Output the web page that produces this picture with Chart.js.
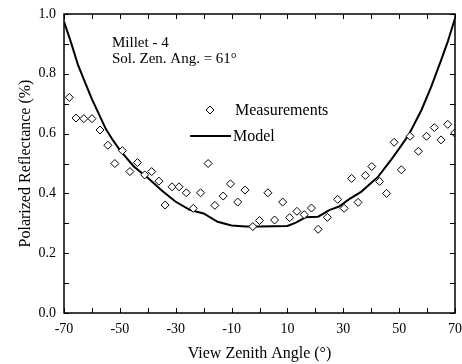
<!DOCTYPE html>
<html><head><meta charset="utf-8">
<script src="https://cdn.jsdelivr.net/npm/chart.js@4.4.1/dist/chart.umd.min.js"></script>
<style>html,body{margin:0;padding:0;background:#fff;}#wrap{width:462px;height:364px;}</style>
</head><body><div id="wrap"><canvas id="c" width="462" height="364"></canvas></div>
<script>
const measAngles = [-68.1,-65.7,-62.9,-60.0,-57.1,-54.3,-51.8,-49.1,-46.4,-43.7,-41.1,-38.6,-36.0,-33.8,-31.3,-28.8,-26.2,-23.7,-21.1,-18.4,-16.0,-13.0,-10.4,-7.8,-5.2,-2.4,0.0,3.0,5.4,8.3,10.8,13.4,16.0,18.6,21.0,24.3,28.0,30.3,33.0,35.3,37.9,40.2,43.0,45.5,48.2,50.8,53.9,56.9,59.8,62.6,65.0,67.4,69.9];
const measValues = [0.721,0.652,0.650,0.650,0.612,0.561,0.500,0.543,0.473,0.503,0.462,0.473,0.441,0.361,0.422,0.422,0.402,0.350,0.402,0.500,0.360,0.391,0.432,0.371,0.411,0.289,0.309,0.402,0.311,0.371,0.319,0.340,0.329,0.351,0.280,0.320,0.380,0.350,0.450,0.370,0.460,0.490,0.440,0.400,0.571,0.479,0.591,0.541,0.591,0.620,0.579,0.631,0.602];
const modelAngles = [-70,-67.5,-65,-62.5,-60,-57.5,-55,-52.5,-50,-45,-40,-35,-30,-25,-20,-15,-10,-5,0,5,10,13,16.5,21,25,28.5,32,36.5,42.5,47.5,50,53.5,58,61.5,65,67.5,70];
const modelValues = [0.975,0.905,0.830,0.772,0.715,0.665,0.615,0.578,0.545,0.490,0.452,0.410,0.372,0.345,0.333,0.305,0.293,0.289,0.289,0.290,0.291,0.302,0.320,0.322,0.344,0.356,0.380,0.406,0.456,0.517,0.550,0.597,0.679,0.757,0.845,0.910,0.985];
const xTickLabels = [-70,-50,-30,-10,10,30,50,70];
const yTickLabels = [0.0,0.2,0.4,0.6,0.8,1.0];
const annotationLines = ["Millet - 4","Sol. Zen. Ang. = 61°"];
const legendLabels = ["Measurements","Model"];

const FONT = "'Liberation Serif', 'Times New Roman', serif";

const frame = {
  id:'frame',
  afterDraw(chart){
    const {ctx, chartArea:a, scales:{x,y}} = chart;
    ctx.save();
    ctx.strokeStyle='#000'; ctx.lineWidth=1.5;
    ctx.strokeRect(a.left, a.top, a.right-a.left, a.bottom-a.top);
    ctx.lineWidth=1;
    ctx.beginPath();
    for(let v=-70; v<=70; v+=10){
      const px = Math.round(x.getPixelForValue(v))+0.5;
      ctx.moveTo(px,a.bottom); ctx.lineTo(px,a.bottom-5);
      ctx.moveTo(px,a.top); ctx.lineTo(px,a.top+5);
    }
    for(let i=0;i<=10;i++){
      const py = Math.round(y.getPixelForValue(i/10))+0.5;
      ctx.moveTo(a.left,py); ctx.lineTo(a.left+5,py);
      ctx.moveTo(a.right,py); ctx.lineTo(a.right-5,py);
    }
    ctx.stroke();
    // annotation text
    ctx.fillStyle='#000';
    ctx.font = "15px "+FONT;
    ctx.textBaseline='alphabetic'; ctx.textAlign='left';
    ctx.fillText(annotationLines[0],112,47);
    ctx.fillText(annotationLines[1],112,63);
    // legend
    ctx.font = "16px "+FONT;
    ctx.fillText(legendLabels[0],235,115);
    ctx.fillText(legendLabels[1],233,141);
    // legend diamond
    ctx.beginPath();
    ctx.moveTo(210,106); ctx.lineTo(214,110); ctx.lineTo(210,114); ctx.lineTo(206,110); ctx.closePath();
    ctx.fillStyle='#fff'; ctx.fill(); ctx.lineWidth=1; ctx.stroke();
    ctx.beginPath(); ctx.lineWidth=2; ctx.moveTo(190,136); ctx.lineTo(231,136); ctx.stroke();
    ctx.restore();
  }
};

new Chart(document.getElementById('c'), {
  type:'scatter',
  data:{
    datasets:[
      {label:legendLabels[0], data: measAngles.map((a,i)=>({x:a,y:measValues[i]})),
       pointStyle:'rectRot', pointRadius:4, backgroundColor:'#fff', borderColor:'#000', borderWidth:1, showLine:false, order:1},
      {label:legendLabels[1], data: modelAngles.map((a,i)=>({x:a,y:modelValues[i]})),
       showLine:true, pointRadius:0, borderColor:'#000', borderWidth:2, tension:0, fill:false, order:2}
    ]
  },
  options:{
    animation:false, responsive:false,
    layout:{padding:{left:0,right:7,top:14,bottom:0}},
    plugins:{legend:{display:false}, tooltip:{enabled:false}},
    scales:{
      x:{type:'linear', min:-70, max:70,
        grid:{display:false, drawTicks:false},
        border:{display:false},
        ticks:{stepSize:10, padding:8, color:'#000', font:{family:FONT,size:14}, maxRotation:0, autoSkip:false,
          callback:(v)=> xTickLabels.includes(v) ? String(v) : ''},
        title:{display:true, text:'View Zenith Angle (°)', color:'#000', font:{family:FONT,size:16}, padding:{top:0,bottom:1}},
        afterFit:(s)=>{s.height=51; s.paddingLeft=0; s.paddingRight=0;}
      },
      y:{type:'linear', min:0, max:1,
        grid:{display:false, drawTicks:false},
        border:{display:false},
        ticks:{stepSize:0.1, padding:8, color:'#000', font:{family:FONT,size:14},
          callback:(v)=>{ const r=Math.round(v*10)/10; return yTickLabels.some(t=>Math.abs(t-r)<1e-6) ? r.toFixed(1) : ''; }},
        title:{display:true, text:'Polarized Reflectance (%)', color:'#000', font:{family:FONT,size:16}, padding:{top:16,bottom:0}},
        afterFit:(s)=>{s.width=64; s.paddingTop=0; s.paddingBottom=0;}
      }
    }
  },
  plugins:[frame]
});
</script></body></html>
